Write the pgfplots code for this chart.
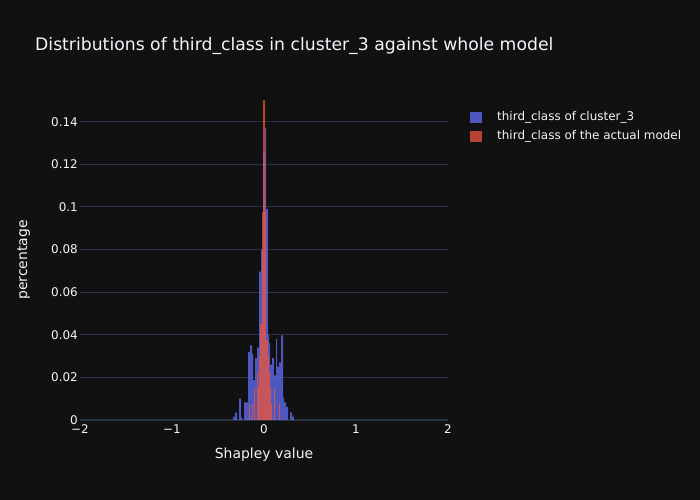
\documentclass[border=0pt]{standalone}
\usepackage{pgfplots}
\pgfplotsset{compat=1.18}
\usepackage{fontspec}
\setmainfont{DejaVu Sans}
\definecolor{bg}{HTML}{111111}
\definecolor{gridc}{HTML}{283442}
\definecolor{fg}{HTML}{F2F5FA}
\definecolor{pblue}{HTML}{636EFA}
\definecolor{pred}{HTML}{EF553B}
\pgfplotsset{sqlegend/.style={legend image code/.code={\fill[##1] (0bp,-5.5bp) rectangle (12bp,5.5bp);}}}
\begin{document}
\begin{tikzpicture}[x=1bp,y=1bp]
\fill[bg] (0,0) rectangle (700,500);
\node[anchor=base west, text=fg, font=\fontsize{17.3}{20}\selectfont, inner sep=0pt] at (35,449) {Distributions of third\_class in cluster\_3 against whole model};
\node[anchor=base, rotate=90, text=fg, font=\fontsize{14}{17}\selectfont, inner sep=0pt] at (27,240) {percentage};
\node[anchor=base, text=fg, font=\fontsize{14}{17}\selectfont, inner sep=0pt] at (264,41) {Shapley value};
\begin{axis}[
  at={(80bp,80bp)}, anchor=south west,
  width=368bp, height=320bp, scale only axis,
  xmin=-2, xmax=2, ymin=0, ymax=0.1502,
  axis line style={draw=none},
  xtick={-2,-1,0,1,2}, xticklabels={−2,−1,0,1,2},
  ytick={0.02,0.04,0.06,0.08,0.1,0.12,0.14},
  yticklabels={0.02,0.04,0.06,0.08,0.1,0.12,0.14},
  extra y ticks={0}, extra y tick labels={0},
  extra y tick style={grid style={gridc, line width=2bp}},
  major tick length=0pt,
  ymajorgrids, grid style={gridc, line width=1bp},
  /pgf/number format/assume math mode=true,
  tick label style={text=fg, font=\fontsize{12}{14}\selectfont},
  xticklabel style={anchor=base, inner sep=0pt, yshift=-13.5bp},
  yticklabel style={anchor=east, inner sep=0pt, xshift=-2bp},
  legend cell align=left,
  legend style={draw=none, fill=none, text=fg, font=\fontsize{12}{14}\selectfont,
    at={(1.0598,0.964)}, anchor=north west, inner xsep=0pt, inner ysep=0pt,
    nodes={inner sep=0pt, text height=8.5bp, text depth=2.5bp},
    row sep=8bp, column sep=15bp},
  clip=false,
]
\addplot[ybar, bar width=0.01087, bar shift=0pt, draw=none, fill=pblue, fill opacity=0.75, sqlegend]
coordinates {
(-0.3315,0.0016) (-0.3207,0.0016) (-0.3098,0.0035) (-0.2989,0.0035)
(-0.2663,0.0100) (-0.2554,0.0100) (-0.2446,0.0012)
(-0.2120,0.0083) (-0.2011,0.0083) (-0.1902,0.0083) (-0.1793,0.0083)
(-0.1685,0.0320) (-0.1576,0.0320) (-0.1467,0.0350) (-0.1359,0.0350)
(-0.1250,0.0310) (-0.1141,0.0187) (-0.1033,0.0187) (-0.0924,0.0290)
(-0.0815,0.0290) (-0.0707,0.0340) (-0.0598,0.0340) (-0.0489,0.0696)
(-0.0380,0.0696) (-0.0272,0.0800) (-0.0163,0.0800) (-0.0054,0.1260)
(0.0054,0.1260) (0.0163,0.1370) (0.0272,0.0990) (0.0380,0.0990)
(0.0489,0.0400) (0.0598,0.0360) (0.0707,0.0260) (0.0815,0.0260)
(0.0924,0.0290) (0.1033,0.0290) (0.1141,0.0210) (0.1250,0.0210)
(0.1359,0.0380) (0.1467,0.0250) (0.1576,0.0250) (0.1685,0.0270)
(0.1793,0.0270) (0.1902,0.0397) (0.2011,0.0397) (0.2120,0.0105)
(0.2228,0.0083) (0.2337,0.0083) (0.2446,0.0060) (0.2554,0.0060)
(0.2880,0.0036) (0.2989,0.0036) (0.3098,0.0016) (0.3207,0.0016)
};
\addlegendentry{third\_class of cluster\_3}
\addplot[ybar, bar width=0.01087, bar shift=0pt, draw=none, fill=pred, fill opacity=0.75, sqlegend]
coordinates {
(-0.1576,0.0075) (-0.1250,0.0075) (-0.1033,0.0150) (-0.0707,0.0225)
(-0.0598,0.0150) (-0.0489,0.0300) (-0.0380,0.0450) (-0.0272,0.0450)
(-0.0163,0.0975) (-0.0054,0.1500) (0.0054,0.1500) (0.0163,0.0975)
(0.0272,0.0375) (0.0380,0.0375) (0.0489,0.0300) (0.0598,0.0225)
(0.0707,0.0150) (0.0815,0.0075) (0.1141,0.0150) (0.1685,0.0075)
};
\addlegendentry{third\_class of the actual model}
\end{axis}
\end{tikzpicture}
\end{document}
